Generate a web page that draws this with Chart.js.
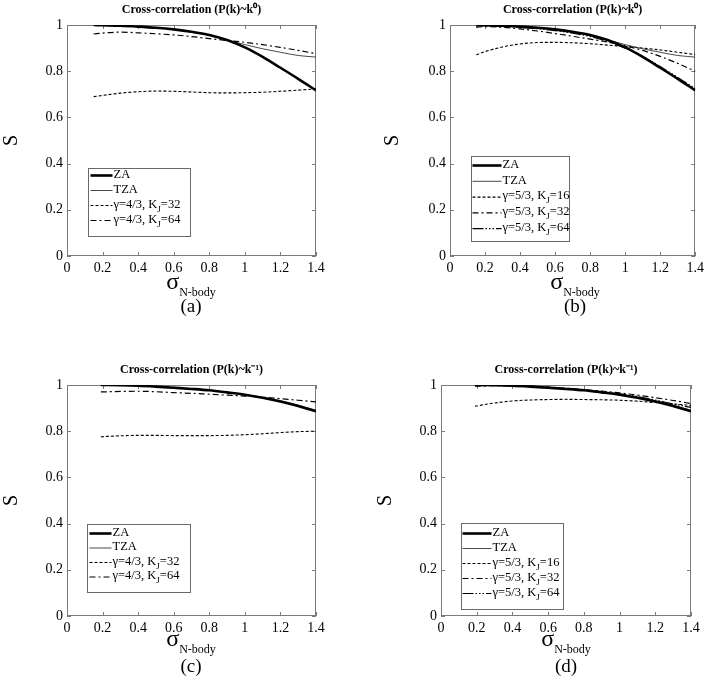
<!DOCTYPE html>
<html>
<head>
<meta charset="utf-8">
<script src="https://cdn.jsdelivr.net/npm/chart.js@4.4.1/dist/chart.umd.min.js"></script>
<style>
  body { margin: 0; background: #fff; width: 709px; height: 686px; position: relative; overflow: hidden; }
  .pane { position: absolute; }
  .txt { position: absolute; font-family: 'Liberation Serif', 'Times New Roman', serif; color: #000; white-space: nowrap; transform: translate(-50%, -50%); line-height: 1; }
  .sig { font-size: 24px; }
  .sig sub { font-size: 12px; vertical-align: -7px; }
  .cap { font-size: 19px; }
</style>
</head>
<body>
<div class="pane" style="left:0;top:0"><canvas id="cA" width="354" height="280"></canvas></div>
<div class="pane" style="left:354px;top:0"><canvas id="cB" width="354" height="280"></canvas></div>
<div class="pane" style="left:0;top:360px"><canvas id="cC" width="354" height="280"></canvas></div>
<div class="pane" style="left:354px;top:360px"><canvas id="cD" width="354" height="280"></canvas></div>

<div class="txt sig" style="left:191px;top:283px">σ<sub>N-body</sub></div>
<div class="txt cap" style="left:191px;top:305px">(a)</div>
<div class="txt sig" style="left:575px;top:283px">σ<sub>N-body</sub></div>
<div class="txt cap" style="left:575px;top:305px">(b)</div>
<div class="txt sig" style="left:191px;top:640px">σ<sub>N-body</sub></div>
<div class="txt cap" style="left:191px;top:665px">(c)</div>
<div class="txt sig" style="left:566px;top:640px">σ<sub>N-body</sub></div>
<div class="txt cap" style="left:566px;top:665px">(d)</div>

<script>
// sigma values sampled off the curves
const xsK0 = [0.15, 0.2, 0.3, 0.4, 0.5, 0.6, 0.7, 0.8, 0.9, 1.0, 1.1, 1.2, 1.3, 1.4];
const xsK1 = [0.19, 0.3, 0.4, 0.5, 0.6, 0.7, 0.8, 0.9, 1.0, 1.1, 1.2, 1.3, 1.4];

// P(k)~k^0
const zaK0  = [1.0, 0.999, 0.997, 0.993, 0.988, 0.981, 0.971, 0.957, 0.935, 0.903, 0.862, 0.815, 0.767, 0.717];
const tzaK0 = [1.0, 0.999, 0.997, 0.993, 0.988, 0.980, 0.969, 0.955, 0.935, 0.915, 0.897, 0.882, 0.868, 0.861];
const g43k32K0 = [0.690, 0.695, 0.705, 0.711, 0.714, 0.713, 0.710, 0.707, 0.706, 0.707, 0.709, 0.713, 0.718, 0.723];
const g43k64K0 = [0.961, 0.965, 0.969, 0.966, 0.962, 0.957, 0.950, 0.941, 0.933, 0.925, 0.915, 0.903, 0.890, 0.876];
const g53k16K0 = [0.871, 0.885, 0.905, 0.918, 0.924, 0.925, 0.923, 0.919, 0.913, 0.907, 0.900, 0.892, 0.882, 0.872];
const g53k32K0 = [0.990, 0.993, 0.990, 0.983, 0.974, 0.963, 0.951, 0.939, 0.926, 0.910, 0.890, 0.864, 0.834, 0.800];
const g53k64K0 = [0.995, 0.997, 0.995, 0.990, 0.984, 0.976, 0.965, 0.950, 0.929, 0.900, 0.864, 0.820, 0.773, 0.725];

// P(k)~k^-1
const zaK1  = [1.0, 0.999, 0.997, 0.993, 0.988, 0.983, 0.977, 0.968, 0.958, 0.945, 0.929, 0.909, 0.886];
const tzaK1 = [1.0, 0.999, 0.997, 0.993, 0.988, 0.983, 0.977, 0.969, 0.959, 0.947, 0.932, 0.913, 0.891];
const g43k32K1 = [0.776, 0.780, 0.782, 0.782, 0.781, 0.781, 0.781, 0.782, 0.785, 0.789, 0.794, 0.798, 0.800];
const g43k64K1 = [0.970, 0.972, 0.973, 0.971, 0.967, 0.964, 0.960, 0.956, 0.952, 0.947, 0.941, 0.934, 0.927];
const g53k16K1 = [0.908, 0.922, 0.931, 0.935, 0.937, 0.938, 0.937, 0.936, 0.934, 0.930, 0.924, 0.918, 0.912];
const g53k32K1 = [0.995, 0.997, 0.997, 0.995, 0.991, 0.986, 0.980, 0.974, 0.966, 0.956, 0.945, 0.933, 0.920];
const g53k64K1 = [0.997, 0.998, 0.997, 0.994, 0.990, 0.984, 0.978, 0.971, 0.962, 0.950, 0.935, 0.918, 0.903];

const labels43 = ['ZA', 'TZA', 'γ=4/3, K_J=32', 'γ=4/3, K_J=64'];
const labels53 = ['ZA', 'TZA', 'γ=5/3, K_J=16', 'γ=5/3, K_J=32', 'γ=5/3, K_J=64'];
const titles = ['Cross-correlation (P(k)~k⁰)', 'Cross-correlation (P(k)~k⁻¹)'];
const xTicks = [0, 0.2, 0.4, 0.6, 0.8, 1, 1.2, 1.4];
const yTicks = [0, 0.2, 0.4, 0.6, 0.8, 1];

const SERIF = "'Liberation Serif', 'Times New Roman', serif";
Chart.defaults.font.family = SERIF;

const lineStyles = {
    za:      { borderWidth: 2.6, borderColor: '#000', borderDash: [] },
    tza:     { borderWidth: 0.9, borderColor: '#333', borderDash: [] },
    dash:    { borderWidth: 1.1, borderColor: '#000', borderDash: [3, 2] },
    dashdot: { borderWidth: 1.2, borderColor: '#000', borderDash: [6, 3, 2, 3] },
    dashdd:  { borderWidth: 1.2, borderColor: '#000', borderDash: [11, 2, 1.5, 2, 1.5, 2, 1.5, 2] }
};

// tick text like the original: 0, 0.2, ..., 1
const fmtTick = v => String(Math.round(v * 10) / 10);

// frame + inward ticks on all four sides
const framePlugin = {
    id: 'frame',
    beforeDatasetsDraw(chart) {
        const { ctx, chartArea: a, scales } = chart;
        ctx.save();
        ctx.strokeStyle = '#7a7a7a';
        ctx.lineWidth = 1;
        ctx.strokeRect(Math.round(a.left) + 0.5, Math.round(a.top) + 0.5, Math.round(a.width) - 1, Math.round(a.height) - 1);
        ctx.beginPath();
        xTicks.forEach(v => {
            const px = Math.round(scales.x.getPixelForValue(v)) + 0.5;
            ctx.moveTo(px, a.bottom); ctx.lineTo(px, a.bottom - 4);
            ctx.moveTo(px, a.top); ctx.lineTo(px, a.top + 4);
        });
        yTicks.forEach(v => {
            const py = Math.round(scales.y.getPixelForValue(v)) + 0.5;
            ctx.moveTo(a.left, py); ctx.lineTo(a.left + 4, py);
            ctx.moveTo(a.right, py); ctx.lineTo(a.right - 4, py);
        });
        ctx.stroke();
        ctx.restore();
    }
};

// boxed legend in the lower left, labels may carry a one-letter subscript (_J)
const boxLegendPlugin = {
    id: 'boxLegend',
    afterDraw(chart, args, o) {
        const { ctx, chartArea: a } = chart;
        const bx = Math.round(a.left + o.left) + 0.5;
        const by = Math.round(a.bottom - o.bottom - o.height) + 0.5;
        ctx.save();
        ctx.fillStyle = '#fff';
        ctx.fillRect(bx, by, o.width, o.height);
        ctx.strokeStyle = '#6a6a6a';
        ctx.lineWidth = 1;
        ctx.strokeRect(bx, by, o.width, o.height);
        chart.data.datasets.forEach((ds, i) => {
            const y = by + o.first + i * o.step;
            ctx.beginPath();
            ctx.strokeStyle = ds.borderColor;
            ctx.lineWidth = ds.borderWidth;
            ctx.setLineDash(ds.borderDash || []);
            ctx.moveTo(bx + o.sampleFrom, y);
            ctx.lineTo(bx + o.sampleTo, y);
            ctx.stroke();
            ctx.setLineDash([]);
            ctx.fillStyle = '#000';
            ctx.textBaseline = 'middle';
            let tx = bx + o.sampleTo + 1;
            const parts = ds.label.split(/_(.)/);
            parts.forEach((p, k) => {
                if (k % 2 === 1) {
                    ctx.font = '9px ' + SERIF;
                    ctx.fillText(p, tx, y + 4);
                } else {
                    ctx.font = '12.5px ' + SERIF;
                    ctx.fillText(p, tx, y - 1);
                }
                tx += ctx.measureText(p).width;
            });
        });
        ctx.restore();
    }
};

function makePanel(id, xs, sets, labels, styles, title, box) {
    const datasets = sets.map((ys, i) => Object.assign({
        label: labels[i],
        data: xs.map((x, j) => ({ x: x, y: ys[j] })),
        pointRadius: 0,
        cubicInterpolationMode: 'monotone',
        fill: false
    }, lineStyles[styles[i]]));

    new Chart(document.getElementById(id), {
        type: 'line',
        data: { datasets: datasets },
        plugins: [framePlugin, boxLegendPlugin],
        options: {
            responsive: false,
            animation: false,
            events: [],
            layout: { autoPadding: false, padding: { left: 0, right: box.right, top: 0, bottom: 0 } },
            plugins: {
                legend: { display: false },
                tooltip: { enabled: false },
                title: {
                    display: true,
                    text: title,
                    fullSize: false,
                    color: '#000',
                    font: { family: SERIF, size: 12, weight: 'bold', lineHeight: 1.2 },
                    padding: { top: 2.8, bottom: 7.8 }
                },
                boxLegend: box.legend
            },
            scales: {
                x: {
                    type: 'linear',
                    min: 0, max: 1.4,
                    afterFit: s => { s.height = 24; },
                    afterBuildTicks: s => { s.ticks = xTicks.map(v => ({ value: v })); },
                    grid: { display: false, drawTicks: false },
                    border: { display: false },
                    ticks: { color: '#000', padding: 4, maxRotation: 0, autoSkip: false,
                             font: { family: SERIF, size: 14 }, callback: fmtTick }
                },
                y: {
                    min: 0, max: 1,
                    afterFit: s => { s.width = box.yWidth; },
                    afterBuildTicks: s => { s.ticks = yTicks.map(v => ({ value: v })); },
                    grid: { display: false, drawTicks: false },
                    border: { display: false },
                    ticks: { color: '#000', padding: 4, autoSkip: false,
                             font: { family: SERIF, size: 14 }, callback: fmtTick },
                    title: {
                        display: true, text: 'S', color: '#000',
                        font: { family: SERIF, size: 20, lineHeight: 1.2 },
                        padding: { top: box.sPad, bottom: 0 }
                    }
                }
            }
        }
    });
}

makePanel('cA', xsK0, [zaK0, tzaK0, g43k32K0, g43k64K0], labels43,
    ['za', 'tza', 'dash', 'dashdot'], titles[0],
    { yWidth: 67, right: 38, sPad: 0,
      legend: { left: 21, bottom: 20, width: 102, height: 68, first: 7, step: 15, sampleFrom: 2, sampleTo: 24 } });

makePanel('cB', xsK0, [zaK0, tzaK0, g53k16K0, g53k32K0, g53k64K0], labels53,
    ['za', 'tza', 'dash', 'dashdot', 'dashdd'], titles[0],
    { yWidth: 96, right: 7, sPad: 27,
      legend: { left: 21, bottom: 15, width: 98, height: 85, first: 9, step: 15.8, sampleFrom: 1, sampleTo: 30 } });

makePanel('cC', xsK1, [zaK1, tzaK1, g43k32K1, g43k64K1], labels43,
    ['za', 'tza', 'dash', 'dashdot'], titles[1],
    { yWidth: 67, right: 38, sPad: 0,
      legend: { left: 20, bottom: 24, width: 103, height: 68, first: 9, step: 14.5, sampleFrom: 2, sampleTo: 24 } });

makePanel('cD', xsK1, [zaK1, tzaK1, g53k16K1, g53k32K1, g53k64K1], labels53,
    ['za', 'tza', 'dash', 'dashdot', 'dashdd'], titles[1],
    { yWidth: 87, right: 17, sPad: 20,
      legend: { left: 20, bottom: 7, width: 102, height: 86, first: 10, step: 15, sampleFrom: 1, sampleTo: 30 } });
</script>
</body>
</html>
